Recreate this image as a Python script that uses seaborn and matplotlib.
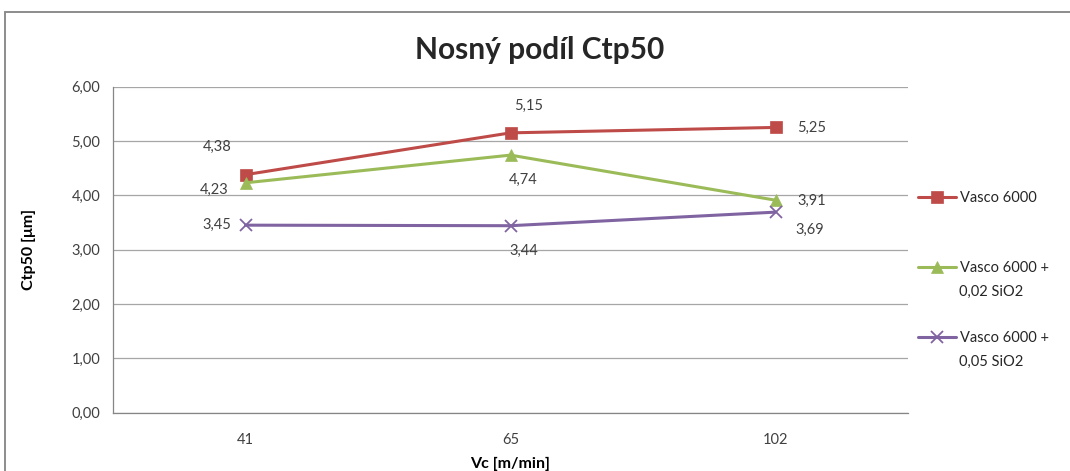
import matplotlib
matplotlib.use("Agg")
import matplotlib.pyplot as plt
from matplotlib.lines import Line2D
import seaborn as sns
import pandas as pd

# Cutting speed categories and measured Ctp50 values
speeds = ["41", "65", "102"]
series_names = ["Vasco 6000", "Vasco 6000 +\n0,02 SiO2", "Vasco 6000 +\n0,05 SiO2"]
vasco = [4.38, 5.15, 5.25]
vasco_002 = [4.23, 4.74, 3.91]
vasco_005 = [3.45, 3.44, 3.69]
y_ticks = [0, 1, 2, 3, 4, 5, 6]

colors = ["#BE4B48", "#9BBB59", "#8064A2"]
markers = ["s", "^", "x"]
marker_sizes = [9, 9, 9]
# label offsets (pixels) for each point's value label, plus alignment
label_offsets = [
    [(-28, 28, "center"), (18, 27, "center"), (22, 0, "left")],
    [(-31, -7, "center"), (13, -25, "center"), (22, -1, "left")],
    [(-14, 0, "right"), (13, -25, "center"), (20, -18, "left")],
]

sns.set_style("white")
plt.rcParams["font.family"] = ["Lato", "DejaVu Sans"]

W, H = 1070, 471
fig = plt.figure(figsize=(W / 100, H / 100), dpi=100)
ax = fig.add_axes([113 / W, 1 - 412.5 / H, (908 - 113) / W, (412.5 - 86.7) / H])

all_values = [vasco, vasco_002, vasco_005]
frames = []
for name, vals in zip(series_names, all_values):
    frames.append(pd.DataFrame({"Vc": speeds, "Ctp50": vals, "series": name}))
df = pd.concat(frames, ignore_index=True)

for i, name in enumerate(series_names):
    sub = df[df["series"] == name]
    sns.lineplot(
        data=sub, x="Vc", y="Ctp50", ax=ax, color=colors[i], marker=markers[i],
        markersize=marker_sizes[i], linewidth=2.2, label=name,
        markeredgecolor=colors[i], markeredgewidth=1.3 if markers[i] == "x" else 0.5,
        sort=False,
    )

# value labels
for i, vals in enumerate(all_values):
    for j, v in enumerate(vals):
        dx, dy, ha = label_offsets[i][j]
        ax.annotate(f"{v:.2f}".replace(".", ","), (j, v), xytext=(dx, dy),
                    textcoords="offset pixels", ha=ha, va="center",
                    fontsize=10.5, color="#404040")

ax.set_xlim(-0.5, 2.5)
ax.set_ylim(0, 6)
ax.set_yticks(y_ticks)
ax.set_yticklabels([f"{t:.2f}".replace(".", ",") for t in y_ticks])
ax.set_xticks(range(len(speeds)))
ax.set_xticklabels(speeds)
ax.set_xticks([-0.5, 0.5, 1.5, 2.5], minor=True)
ax.tick_params(axis="x", which="major", length=0, pad=15, labelsize=10.5, labelcolor="#404040")
ax.tick_params(axis="x", which="minor", length=5, width=0.8, color="#868686", direction="out")
ax.tick_params(axis="y", length=5, width=0.8, color="#868686", direction="out", pad=4,
               labelsize=10.5, labelcolor="#404040")
ax.yaxis.grid(True, color="#A6A6A6", linewidth=0.9)
ax.set_axisbelow(True)
for s in ["top", "right"]:
    ax.spines[s].set_visible(False)
for s in ["left", "bottom"]:
    ax.spines[s].set_color("#868686")
    ax.spines[s].set_linewidth(0.9)

ax.set_ylabel("Ctp50 [μm]", fontsize=11.5, fontweight="bold", color="black", labelpad=26)
ax.set_xlabel("Vc [m/min]", fontsize=11.5, fontweight="bold", color="black", labelpad=7)
fig.text(540 / W, 1 - 50 / H, "Nosný podíl Ctp50", fontsize=21.5, fontweight="bold",
         ha="center", va="center")

# legend: the marker sits beside the first line of each entry
handles, labels = ax.get_legend_handles_labels()
if ax.get_legend():
    ax.get_legend().remove()
legend_rows = [198, 268, 338]
for h, lab, y in zip(handles, labels, legend_rows):
    lines = lab.split("\n")
    lg = fig.legend([h], [lines[0]], loc="center left", bbox_to_anchor=(918 / W, 1 - y / H),
                    frameon=False, fontsize=10.5, handlelength=2.6, handletextpad=0.25,
                    borderaxespad=0, borderpad=0)
    for k, extra in enumerate(lines[1:], start=1):
        fig.text(959 / W, 1 - (y + 24 * k) / H, extra, fontsize=10.5, ha="left", va="center",
                 color="#262626")
    for t in lg.get_texts():
        t.set_color("#262626")

# chart area border
fig.add_artist(Line2D([5 / W, 5 / W], [0, 1 - 12 / H], transform=fig.transFigure,
                      color="#8C8C8C", linewidth=1.4))
fig.add_artist(Line2D([5 / W, 1], [1 - 12 / H, 1 - 12 / H], transform=fig.transFigure,
                      color="#8C8C8C", linewidth=1.4))

fig.savefig("out.png", dpi=100)
